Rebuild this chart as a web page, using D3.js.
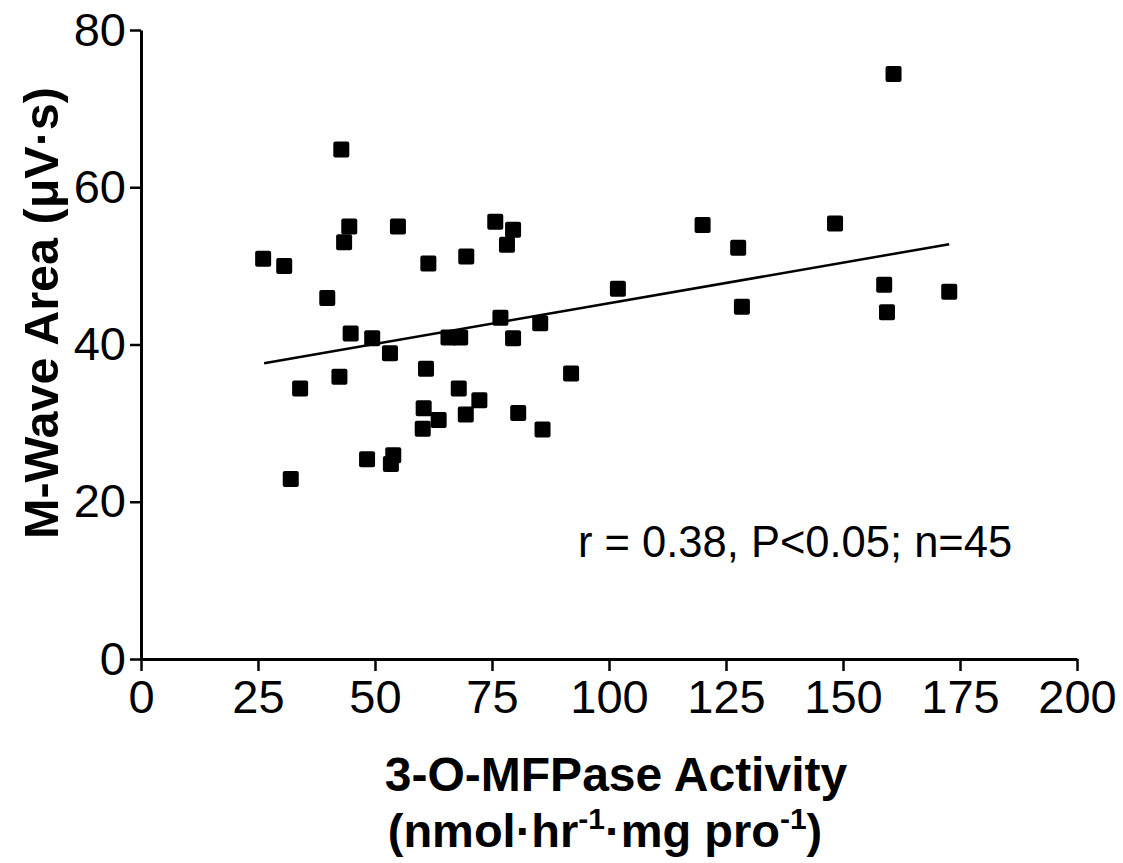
<!DOCTYPE html>
<html>
<head>
<meta charset="utf-8">
<script src="https://cdn.jsdelivr.net/npm/d3@7"></script>
<style>
  body { margin: 0; background: #fff; }
  svg text { font-family: "Liberation Sans", Arial, Helvetica, sans-serif; fill: #000; }
</style>
</head>
<body>
<div id="chart"></div>
<script>
// 3-O-MFPase activity (x) vs M-wave area (y), n = 45
var activity = [26.1, 30.6, 32.0, 34.0, 39.8, 42.4, 42.8, 43.4, 44.5, 44.8,
                48.3, 49.4, 53.2, 53.4, 53.9, 54.9, 60.2, 60.4, 60.9, 61.4,
                63.6, 65.7, 68.2, 67.9, 69.4, 69.5, 72.3, 75.7, 76.8, 78.2,
                79.5, 79.5, 80.6, 85.3, 85.8, 91.9, 101.9, 120.0, 127.6, 128.4,
                148.3, 158.8, 159.4, 160.8, 172.7];
var mwave = [50.9, 50.0, 22.9, 34.4, 45.9, 35.9, 64.8, 53.0, 55.0, 41.4,
             25.4, 40.8, 38.9, 24.8, 25.9, 55.0, 29.3, 31.9, 36.9, 50.3,
             30.4, 40.9, 40.9, 34.4, 31.1, 51.2, 32.9, 55.6, 43.4, 52.7,
             54.6, 40.8, 31.3, 42.7, 29.2, 36.3, 47.1, 55.2, 52.3, 44.8,
             55.4, 47.6, 44.1, 74.4, 46.7];

var xTicks = [0, 25, 50, 75, 100, 125, 150, 175, 200];
var yTicks = [0, 20, 40, 60, 80];

// regression line as drawn
var fitRange = [26.3, 172.7];
var fitIntercept = 34.9, fitSlope = 0.1034;

var statsText = "r = 0.38, P<0.05; n=45";

function draw() {
    var width = 1123, height = 863;
    var plotLeft = 141, plotRight = 1077, plotTop = 30, plotBottom = 659;

    var svg = d3.select("#chart").append("svg")
        .attr("width", width)
        .attr("height", height);

    var x = d3.scaleLinear().domain([0, 200]).range([plotLeft, plotRight]);
    var y = d3.scaleLinear().domain([0, 80]).range([plotBottom, plotTop]);

    var xAxis = svg.append("g")
        .attr("transform", "translate(0," + plotBottom + ")")
        .call(d3.axisBottom(x).tickValues(xTicks).tickSize(12).tickSizeOuter(0).tickPadding(9));

    var yAxis = svg.append("g")
        .attr("transform", "translate(" + plotLeft + ",0)")
        .call(d3.axisLeft(y).tickValues(yTicks).tickSize(11).tickSizeOuter(0).tickPadding(4));

    [xAxis, yAxis].forEach(function(g) {
        g.select(".domain").attr("stroke", "#000").attr("stroke-width", 3);
        g.selectAll(".tick line").attr("stroke", "#000").attr("stroke-width", 2.5);
        g.selectAll(".tick text")
            .attr("font-size", "47px")
            .attr("font-family", "Liberation Sans, Arial, sans-serif")
            .attr("fill", "#000");
    });

    // regression line
    svg.append("line")
        .attr("x1", x(fitRange[0]))
        .attr("y1", y(fitIntercept + fitSlope * fitRange[0]))
        .attr("x2", x(fitRange[1]))
        .attr("y2", y(fitIntercept + fitSlope * fitRange[1]))
        .attr("stroke", "#000")
        .attr("stroke-width", 2.5);

    // points
    var sq = 16;
    svg.append("g")
        .selectAll("rect")
        .data(activity.map(function(d, i) { return {x: d, y: mwave[i]}; }))
        .enter().append("rect")
          .attr("x", function(d) { return x(d.x) - sq / 2; })
          .attr("y", function(d) { return y(d.y) - sq / 2; })
          .attr("width", sq)
          .attr("height", sq)
          .attr("rx", 2)
          .attr("fill", "#000");

    // stats annotation
    svg.append("text")
        .attr("x", 578)
        .attr("y", 557)
        .attr("font-size", "43.5px")
        .text(statsText);

    // y axis title
    svg.append("text")
        .attr("transform", "translate(58,313) rotate(-90)")
        .attr("text-anchor", "middle")
        .attr("font-size", "48.5px")
        .attr("font-weight", "bold")
        .text("M-Wave Area (\u03bcV\u00b7s)");

    // x axis title, two lines
    var cx = 616;
    svg.append("text")
        .attr("x", cx)
        .attr("y", 791)
        .attr("text-anchor", "middle")
        .attr("font-size", "48px")
        .attr("font-weight", "bold")
        .text("3-O-MFPase Activity");

    var t2 = svg.append("text")
        .attr("x", 605)
        .attr("y", 847)
        .attr("text-anchor", "middle")
        .attr("font-size", "47px")
        .attr("font-weight", "bold");
    t2.append("tspan").text("(nmol\u00b7hr");
    t2.append("tspan").attr("dy", -18).attr("font-size", "30px").text("-1");
    t2.append("tspan").attr("dy", 18).text("\u00b7mg pro");
    t2.append("tspan").attr("dy", -18).attr("font-size", "30px").text("-1");
    t2.append("tspan").attr("dy", 18).text(")");
}

draw();
</script>
</body>
</html>
